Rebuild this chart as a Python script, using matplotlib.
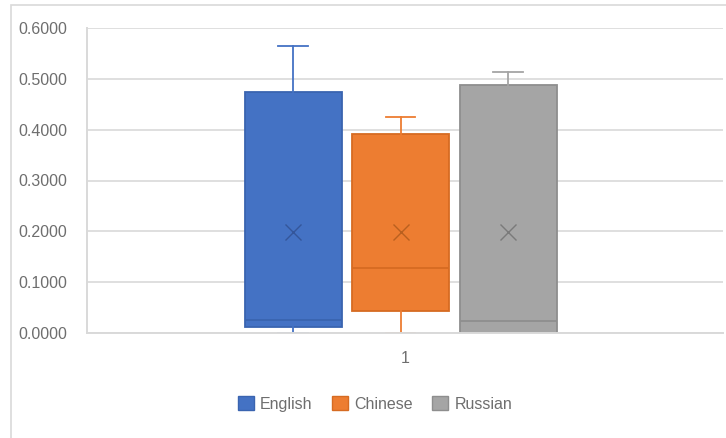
import matplotlib.pyplot as plt
import matplotlib as mpl
from matplotlib.patches import Patch, Rectangle
import numpy as np

# box plot values
languages = ['English', 'Chinese', 'Russian']
whisker_low = [0.0, 0.0, 0.0]
q1_values = [0.012, 0.044, 0.0]
medians = [0.026, 0.128, 0.024]
q3_values = [0.475, 0.392, 0.487]
whisker_high = [0.565, 0.425, 0.514]
means = [0.199, 0.199, 0.199]
category_labels = ['1']
y_ticks = [0.0, 0.1, 0.2, 0.3, 0.4, 0.5, 0.6]

fills = ['#4472C4', '#ED7D31', '#A5A5A5']
edges = ['#3A64B0', '#D66B22', '#8E8E8E']
mean_cols = ['#34569A', '#B9601F', '#7A7A7A']

mpl.rcParams['font.family'] = ['Liberation Sans', 'DejaVu Sans']

fig = plt.figure(figsize=(7.26, 4.38), dpi=100)
ax = fig.add_axes([87 / 726, 1 - 333 / 438, (723 - 87) / 726, (333 - 28) / 438])

positions = 1 + np.array([-1, 0, 1]) * 0.169 - 0.007
stats = []
for i, name in enumerate(languages):
    stats.append(dict(label=name, whislo=whisker_low[i], q1=q1_values[i], med=medians[i],
                      q3=q3_values[i], whishi=whisker_high[i], mean=means[i], fliers=[]))

for i, st in enumerate(stats):
    ax.bxp([st], positions=[positions[i]], widths=0.1525, capwidths=0.047,
           patch_artist=True, showmeans=True, showfliers=False,
           boxprops=dict(facecolor=fills[i], edgecolor=edges[i], linewidth=1.3),
           whiskerprops=dict(color=fills[i], linewidth=1.3),
           capprops=dict(color=fills[i], linewidth=1.3),
           medianprops=dict(color=edges[i], linewidth=1.3),
           meanprops=dict(marker='x', markeredgecolor=mean_cols[i], markersize=11,
                          markeredgewidth=1.0),
           zorder=3)

ax.set_xlim(0.5, 1.5)
ax.set_ylim(0, 0.6)
ax.set_yticks(y_ticks)
ax.set_yticklabels([f'{v:.4f}' for v in y_ticks])
ax.set_xticks([1])
ax.set_xticklabels(category_labels)
ax.tick_params(length=0, labelsize=11.5, colors='#6E6E6E')
ax.tick_params(axis='y', pad=14)
ax.tick_params(axis='x', pad=13)
ax.grid(axis='y', color='#D9D9D9', linewidth=1.2, zorder=0)
ax.set_axisbelow(True)
for s in ['top', 'right']:
    ax.spines[s].set_visible(False)
for s in ['left', 'bottom']:
    ax.spines[s].set_color('#D9D9D9')
    ax.spines[s].set_linewidth(1.4)
    ax.spines[s].set_zorder(5)

handles = [Patch(facecolor=fills[i], edgecolor=edges[i], label=languages[i]) for i in range(3)]
fig.legend(handles=handles, loc='center', bbox_to_anchor=(375 / 726, 1 - 404 / 438), ncol=3,
           frameon=False, fontsize=11.5, labelcolor='#6E6E6E', handlelength=1.0,
           handleheight=1.0, handletextpad=0.4, columnspacing=1.2)

# outer chart border
fig.add_artist(Rectangle((11 / 726, -0.1), 1.2, 1 - 5 / 438 + 0.1, transform=fig.transFigure,
                         fill=False, edgecolor='#D9D9D9', linewidth=1.2))

fig.savefig('out.png', dpi=100)
